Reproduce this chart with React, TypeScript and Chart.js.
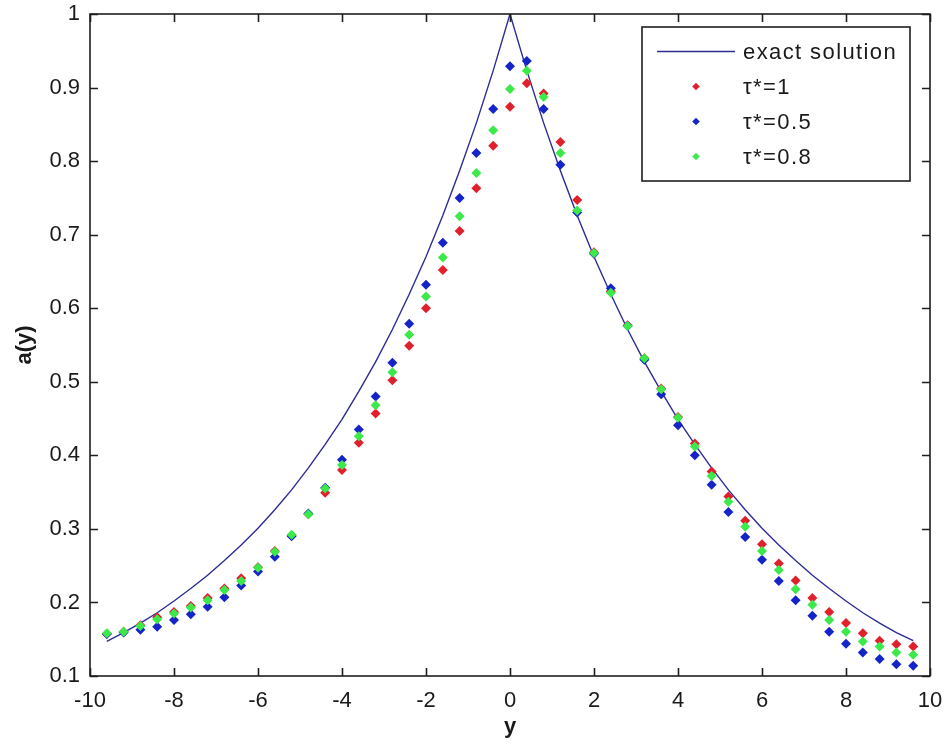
import React, { useEffect, useRef } from "react";
import { Chart, registerables } from "chart.js";

Chart.register(...registerables);

// sample positions along y
const yPositions = [
  -9.6, -9.2, -8.8, -8.4, -8.0, -7.6, -7.2, -6.8, -6.4, -6.0, -5.6, -5.2, -4.8, -4.4, -4.0, -3.6, -3.2, -2.8, -2.4, -2.0, -1.6, -1.2, -0.8, -0.4,
  0,
  0.4, 0.8, 1.2, 1.6, 2.0, 2.4, 2.8, 3.2, 3.6, 4.0, 4.4, 4.8, 5.2, 5.6, 6.0, 6.4, 6.8, 7.2, 7.6, 8.0, 8.4, 8.8, 9.2, 9.6,
];

const exactSolution = [
  0.147, 0.159, 0.172, 0.186, 0.202, 0.219, 0.237, 0.257, 0.278, 0.301, 0.326, 0.353, 0.383, 0.415, 0.449, 0.487, 0.527, 0.571, 0.619, 0.670, 0.726, 0.787, 0.852, 0.923,
  1.0,
  0.923, 0.852, 0.787, 0.726, 0.670, 0.619, 0.571, 0.527, 0.487, 0.449, 0.415, 0.383, 0.353, 0.326, 0.301, 0.278, 0.257, 0.237, 0.219, 0.202, 0.186, 0.172, 0.159, 0.148,
];

const tau1 = [
  0.157, 0.160, 0.169, 0.180, 0.187, 0.195, 0.206, 0.219, 0.233, 0.248, 0.270, 0.291, 0.320, 0.349, 0.380, 0.417, 0.457, 0.502, 0.549, 0.600, 0.652, 0.705, 0.763, 0.821,
  0.874,
  0.906, 0.892, 0.826, 0.747, 0.676, 0.623, 0.577, 0.532, 0.491, 0.452, 0.416, 0.378, 0.344, 0.311, 0.279, 0.253, 0.230, 0.206, 0.187, 0.172, 0.158, 0.148, 0.143, 0.140,
];

const tau05 = [
  0.157, 0.159, 0.163, 0.167, 0.176, 0.184, 0.194, 0.207, 0.223, 0.242, 0.262, 0.290, 0.321, 0.356, 0.394, 0.435, 0.480, 0.526, 0.579, 0.632, 0.689, 0.750, 0.811, 0.871,
  0.929,
  0.936, 0.871, 0.795, 0.730, 0.674, 0.627, 0.576, 0.530, 0.483, 0.441, 0.400, 0.360, 0.323, 0.289, 0.258, 0.229, 0.203, 0.182, 0.160, 0.144, 0.132, 0.123, 0.116, 0.114,
];

const tau08 = [
  0.158, 0.160, 0.168, 0.177, 0.185, 0.193, 0.203, 0.217, 0.229, 0.247, 0.269, 0.292, 0.320, 0.355, 0.387, 0.426, 0.468, 0.513, 0.564, 0.616, 0.669, 0.725, 0.784, 0.842,
  0.898,
  0.923, 0.887, 0.811, 0.733, 0.675, 0.621, 0.576, 0.532, 0.490, 0.451, 0.412, 0.372, 0.337, 0.303, 0.270, 0.244, 0.218, 0.197, 0.176, 0.160, 0.147, 0.140, 0.132, 0.129,
];

const seriesLabels = ["exact solution", "τ*=1", "τ*=0.5", "τ*=0.8"];
const xTicks = [-10, -8, -6, -4, -2, 0, 2, 4, 6, 8, 10];
const yTicks = [0.1, 0.2, 0.3, 0.4, 0.5, 0.6, 0.7, 0.8, 0.9, 1];

const FONT = "'Liberation Sans', Arial, Helvetica, sans-serif";
const AXIS_COLOR = "#1e1e1e";

const toPoints = (ys: number[]) => yPositions.map((x, i) => ({ x, y: ys[i] }));

const clearScalePadding = (scale: any) => {
  scale.paddingTop = 0;
  scale.paddingBottom = 0;
  scale.paddingLeft = 0;
  scale.paddingRight = 0;
};

const framePlugin = {
  id: "matlabFrame",
  afterDatasetsDraw(chart: any) {
    const { ctx, chartArea } = chart;
    const { left, right, top, bottom } = chartArea;
    const xs = chart.scales.x;
    const ys = chart.scales.y;
    const tl = 8;
    ctx.save();
    ctx.strokeStyle = AXIS_COLOR;
    ctx.lineWidth = 1.6;
    ctx.strokeRect(left, top, right - left, bottom - top);
    ctx.beginPath();
    xTicks.forEach((v) => {
      const px = Math.round(xs.getPixelForValue(v)) + 0.5;
      ctx.moveTo(px, bottom);
      ctx.lineTo(px, bottom - tl);
      ctx.moveTo(px, top);
      ctx.lineTo(px, top + tl);
    });
    yTicks.forEach((v) => {
      const py = Math.round(ys.getPixelForValue(v)) + 0.5;
      ctx.moveTo(left, py);
      ctx.lineTo(left + tl, py);
      ctx.moveTo(right, py);
      ctx.lineTo(right - tl, py);
    });
    ctx.stroke();
    ctx.restore();
  },
};

const legendPlugin = {
  id: "matlabLegend",
  afterDraw(chart: any) {
    const { ctx, chartArea } = chart;
    const datasets = chart.data.datasets;
    const w = 268;
    const h = 154;
    const boxRight = chartArea.right - 20;
    const boxTop = chartArea.top + 13;
    const left = boxRight - w;
    ctx.save();
    ctx.fillStyle = "#ffffff";
    ctx.fillRect(left, boxTop, w, h);
    ctx.strokeStyle = AXIS_COLOR;
    ctx.lineWidth = 1.6;
    ctx.strokeRect(left, boxTop, w, h);
    ctx.font = `22px ${FONT}`;
    ctx.textBaseline = "middle";
    ctx.textAlign = "left";
    try {
      (ctx as any).letterSpacing = "1.4px";
    } catch (e) {}
    datasets.forEach((ds: any, i: number) => {
      const rowY = boxTop + 24.5 + i * 35;
      if (ds.showLine) {
        ctx.strokeStyle = ds.borderColor;
        ctx.lineWidth = 1.5;
        ctx.beginPath();
        ctx.moveTo(left + 15, rowY);
        ctx.lineTo(left + 93, rowY);
        ctx.stroke();
      } else {
        const r = 3.8;
        const cx = left + 54;
        ctx.fillStyle = ds.backgroundColor;
        ctx.beginPath();
        ctx.moveTo(cx, rowY - r);
        ctx.lineTo(cx + r, rowY);
        ctx.lineTo(cx, rowY + r);
        ctx.lineTo(cx - r, rowY);
        ctx.closePath();
        ctx.fill();
      }
      ctx.fillStyle = "#1a1a1a";
      ctx.fillText(ds.label, left + 101, rowY + 1);
    });
    ctx.restore();
  },
};

export default function App() {
  const canvasRef = useRef<HTMLCanvasElement | null>(null);

  useEffect(() => {
    document.body.style.margin = "0";
    const canvas = canvasRef.current;
    if (!canvas) return;

    const markerSet = (label: string, ys: number[], color: string, order: number) => ({
      type: "scatter" as const,
      label,
      data: toPoints(ys),
      showLine: false,
      pointStyle: "rectRot",
      pointRadius: 5,
      pointBorderWidth: 0,
      backgroundColor: color,
      borderColor: color,
      order,
    });

    const chart = new Chart(canvas, {
      type: "scatter",
      data: {
        datasets: [
          {
            type: "line" as const,
            label: seriesLabels[0],
            data: toPoints(exactSolution),
            showLine: true,
            borderColor: "#2c2c96",
            backgroundColor: "#2c2c96",
            borderWidth: 1.4,
            pointRadius: 0,
            tension: 0,
            fill: false,
            order: 4,
          } as any,
          markerSet(seriesLabels[1], tau1, "#e0202a", 3),
          markerSet(seriesLabels[2], tau05, "#1424c8", 2),
          markerSet(seriesLabels[3], tau08, "#3ce84a", 1),
        ],
      },
      options: {
        responsive: false,
        animation: false,
        devicePixelRatio: 1,
        layout: { padding: { top: 14, right: 15, left: 0, bottom: 0 } },
        plugins: {
          legend: { display: false },
          tooltip: { enabled: false },
        },
        scales: {
          x: {
            type: "linear",
            min: -10,
            max: 10,
            afterBuildTicks: (scale: any) => {
              scale.ticks = xTicks.map((v) => ({ value: v }));
            },
            afterFit: (scale: any) => {
              scale.height = 73;
              clearScalePadding(scale);
            },
            grid: { display: false, drawTicks: false },
            border: { display: false },
            ticks: {
              autoSkip: false,
              maxRotation: 0,
              padding: 12,
              color: "#1a1a1a",
              font: { family: FONT, size: 22 },
              callback: (v: any) => String(v),
            },
            title: {
              display: true,
              text: "y",
              color: "#1a1a1a",
              font: { family: FONT, size: 22, weight: "bold" },
              padding: { top: 0, bottom: 9 },
            },
          },
          y: {
            type: "linear",
            min: 0.1,
            max: 1,
            afterBuildTicks: (scale: any) => {
              scale.ticks = yTicks.map((v) => ({ value: v }));
            },
            afterFit: (scale: any) => {
              scale.width = 90;
              clearScalePadding(scale);
            },
            grid: { display: false, drawTicks: false },
            border: { display: false },
            ticks: {
              autoSkip: false,
              padding: 10,
              color: "#1a1a1a",
              font: { family: FONT, size: 22 },
              callback: (v: any) => String(+Number(v).toFixed(2)),
            },
            title: {
              display: true,
              text: "a(y)",
              color: "#1a1a1a",
              font: { family: FONT, size: 22, weight: "bold" },
              padding: { top: 12, bottom: 0 },
            },
          },
        },
      } as any,
      plugins: [framePlugin, legendPlugin],
    });

    return () => {
      chart.destroy();
    };
  }, []);

  return (
    <div style={{ width: 945, height: 749, background: "#ffffff" }}>
      <canvas ref={canvasRef} width={945} height={749} style={{ display: "block" }} />
    </div>
  );
}
